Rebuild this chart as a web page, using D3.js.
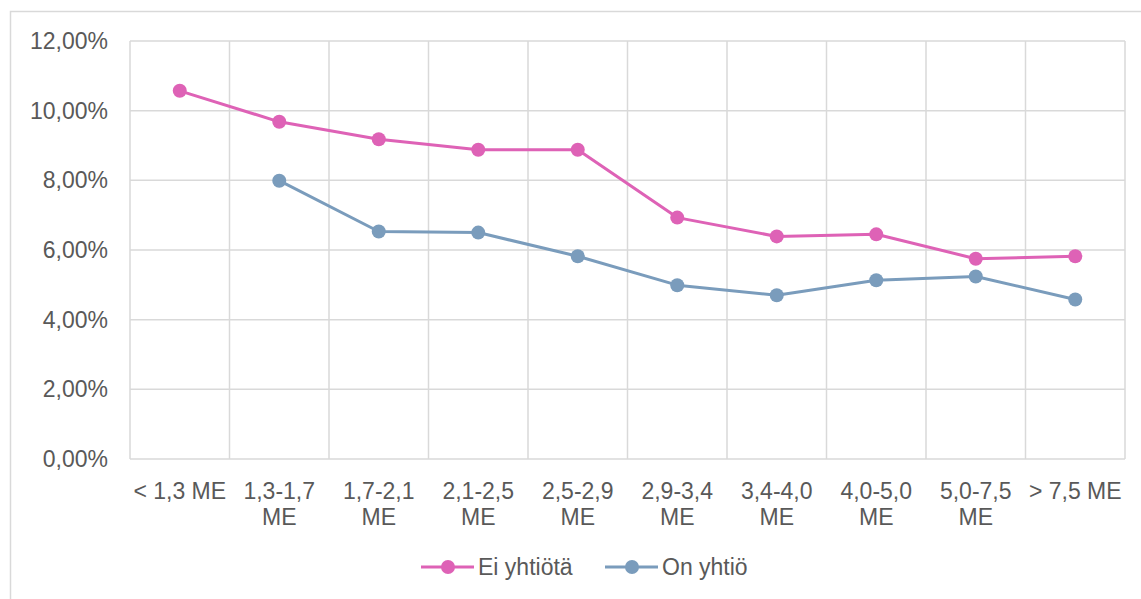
<!DOCTYPE html>
<html>
<head>
<meta charset="utf-8">
<script src="https://cdn.jsdelivr.net/npm/d3@7"></script>
<style>
  body { margin: 0; background: #fff; }
  svg text { font-family: "Liberation Sans", Arial, sans-serif; fill: #595959; }
</style>
</head>
<body>
<div id="chart"></div>
<script>
// Chart data
const categories = ["< 1,3 ME", "1,3-1,7 ME", "1,7-2,1 ME", "2,1-2,5 ME", "2,5-2,9 ME",
                    "2,9-3,4 ME", "3,4-4,0 ME", "4,0-5,0 ME", "5,0-7,5 ME", "> 7,5 ME"];
const eiYhtiota = [10.57, 9.68, 9.18, 8.88, 8.88, 6.93, 6.39, 6.45, 5.75, 5.82];
const onYhtio = [null, 7.99, 6.53, 6.50, 5.82, 4.99, 4.70, 5.13, 5.24, 4.58];
const yTicks = [0, 2, 4, 6, 8, 10, 12];
const seriesNames = ["Ei yhtiötä", "On yhtiö"];

const W = 1141, H = 599;
const margin = { top: 41, right: 16, bottom: 140, left: 130 };
const width = W - margin.left - margin.right;
const height = H - margin.top - margin.bottom;
const fontSize = 23;

const svg = d3.select("#chart")
    .append("svg")
    .attr("width", W)
    .attr("height", H);

// Outer frame (only top and left edges visible)
svg.append("path")
    .attr("d", "M10.5,599 V11.5 H1141")
    .attr("fill", "none")
    .attr("stroke", "#d9d9d9")
    .attr("stroke-width", 1.5);

const g = svg.append("g")
    .attr("transform", `translate(${margin.left},${margin.top})`);

const x = d3.scaleBand()
    .domain(categories)
    .range([0, width])
    .padding(0);

const y = d3.scaleLinear()
    .domain([0, 12])
    .range([height, 0]);

// Horizontal grid
g.selectAll(".hgrid")
    .data(yTicks)
    .join("line")
    .attr("x1", 0)
    .attr("x2", width)
    .attr("y1", d => y(d))
    .attr("y2", d => y(d))
    .attr("stroke", "#d9d9d9")
    .attr("stroke-width", 1.5);

// Vertical grid at band edges
const edges = categories.map(c => x(c)).concat([width]);
g.selectAll(".vgrid")
    .data(edges)
    .join("line")
    .attr("x1", d => d)
    .attr("x2", d => d)
    .attr("y1", 0)
    .attr("y2", height)
    .attr("stroke", "#d9d9d9")
    .attr("stroke-width", 1.5);

// Y axis labels
const yAxis = g.append("g")
    .call(d3.axisLeft(y).tickValues(yTicks)
        .tickSize(0).tickPadding(22)
        .tickFormat(d => d3.format(".2f")(d).replace(".", ",") + "%"));
yAxis.select(".domain").remove();
yAxis.selectAll("text")
    .attr("font-size", fontSize)
    .style("fill", "#595959")
    .style("font-family", "Liberation Sans, Arial, sans-serif");

// X axis labels (wrapped)
const xLabels = g.append("g")
    .attr("transform", `translate(0,${height})`);
categories.forEach(c => {
    const cx = x(c) + x.bandwidth() / 2;
    const lines = (c.startsWith("<") || c.startsWith(">")) ? [c] : [c.replace(" ME", ""), "ME"];
    const t = xLabels.append("text")
        .attr("text-anchor", "middle")
        .attr("font-size", fontSize)
        .attr("y", 40);
    lines.forEach((l, i) => {
        t.append("tspan")
            .attr("x", cx)
            .attr("dy", i === 0 ? 0 : 26)
            .text(l);
    });
});

// Lines and markers
const colors = ["#de62b6", "#7a9cbc"];
const series = [eiYhtiota, onYhtio];

const line = d3.line()
    .defined(d => d != null)
    .x((d, i) => x(categories[i]) + x.bandwidth() / 2)
    .y(d => y(d));

series.forEach((s, k) => {
    g.append("path")
        .datum(s)
        .attr("fill", "none")
        .attr("stroke", colors[k])
        .attr("stroke-width", 3)
        .attr("stroke-linejoin", "round")
        .attr("d", line);

    g.selectAll(".pt" + k)
        .data(s.map((v, i) => ({ v, i })).filter(d => d.v != null))
        .join("circle")
        .attr("cx", d => x(categories[d.i]) + x.bandwidth() / 2)
        .attr("cy", d => y(d.v))
        .attr("r", 7)
        .attr("fill", colors[k]);
});

// Legend
const legendY = 567;
const legendX = [421, 605];
seriesNames.forEach((name, k) => {
    const lg = svg.append("g").attr("transform", `translate(${legendX[k]},${legendY})`);
    lg.append("line")
        .attr("x1", 0).attr("x2", 53)
        .attr("stroke", colors[k])
        .attr("stroke-width", 3);
    lg.append("circle")
        .attr("cx", 27)
        .attr("r", 7)
        .attr("fill", colors[k]);
    lg.append("text")
        .attr("x", 57)
        .attr("dy", "0.35em")
        .attr("font-size", fontSize)
        .text(name);
});
</script>
</body>
</html>
